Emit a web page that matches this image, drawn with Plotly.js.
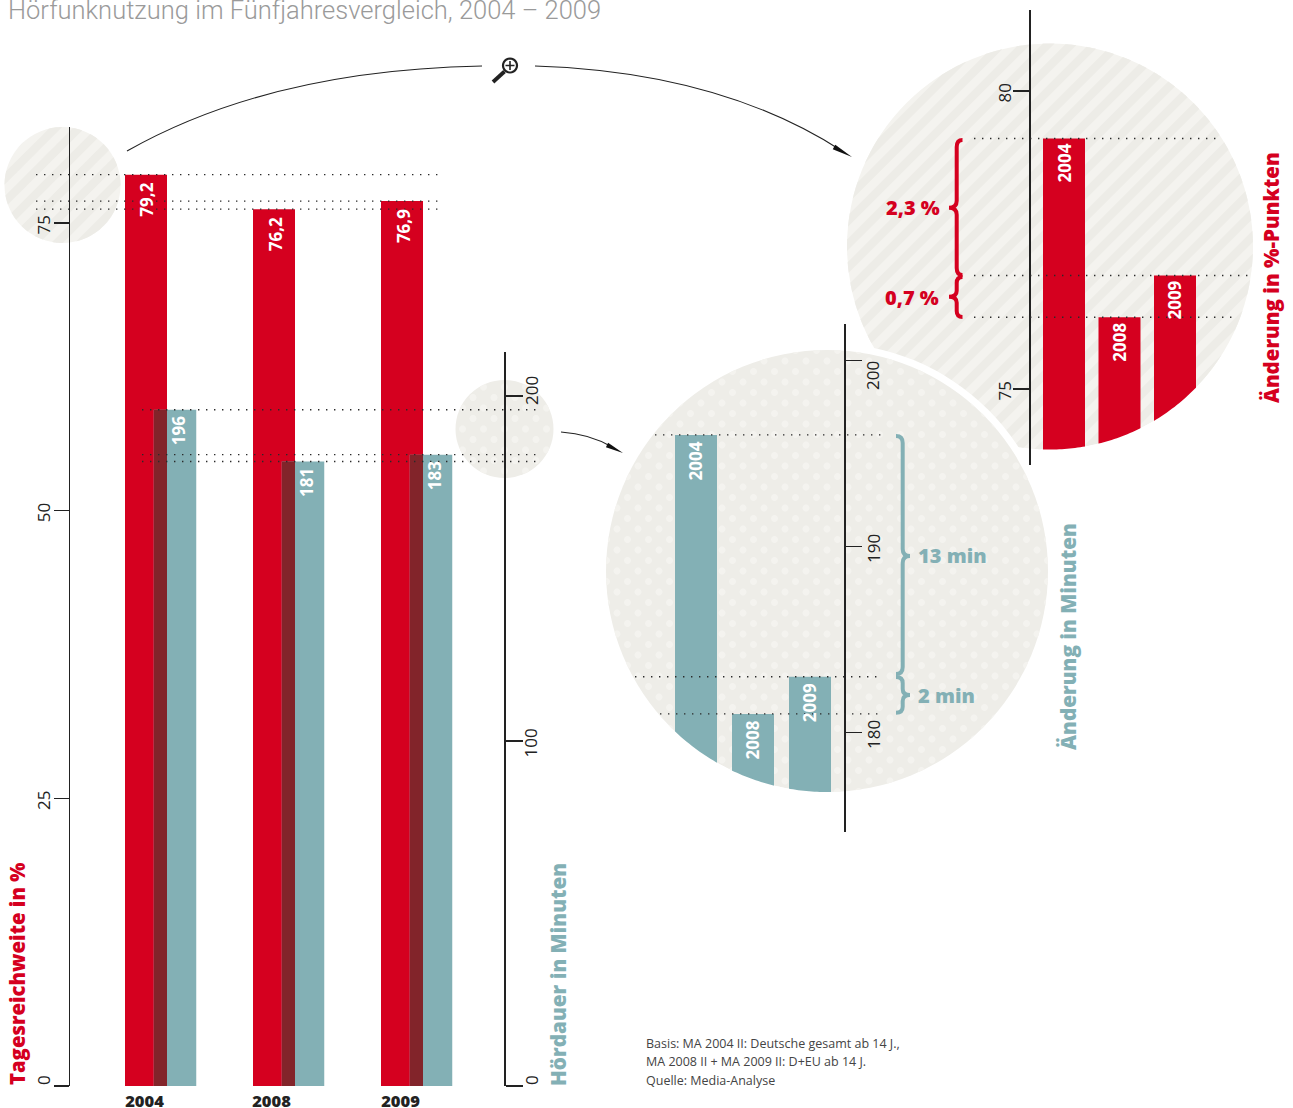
<!DOCTYPE html>
<html><head><meta charset="utf-8">
<script src="https://cdn.plot.ly/plotly-3.0.1.min.js"></script>
<style>html,body{margin:0;padding:0;background:#fff}#c{width:1293px;height:1108px}</style>
</head><body><div id="c"></div>
<script>
const years = ['2004','2008','2009'];
const reach = [79.2,76.2,76.9];
const reachLabels = ['79,2','76,2','76,9'];
const duration = [196,181,183];
const durationLabels = ['196','181','183'];
const reachTicks = [0,25,50,75];
const durationTicks = [0,100,200];
const reachZoomTicks = [75,80];
const durationZoomTicks = [180,190,200];
const reachDeltaLabels = ['2,3 %','0,7 %'];
const durationDeltaLabels = ['13 min','2 min'];
const titleText = 'Hörfunknutzung im Fünfjahresvergleich, 2004 – 2009';
const noteLines = ['Basis: MA 2004 II: Deutsche gesamt ab 14 J.,','MA 2008 II + MA 2009 II: D+EU ab 14 J.','Quelle: Media-Analyse'];

const W=1293,H=1108;
const RED='#d5001f',TEAL='#83b0b5',DARK='#82242a',INK='#222222',BASE='#eeede8',LIGHT='#f4f3ef';
const SANS='"Open Sans", sans-serif';
const px=x=>x/W, py=y=>1-y/H;
const P=(x,y)=>px(x).toFixed(5)+','+py(y).toFixed(5);

function ringPoly(cx,cy,R,n){let s='';for(let i=0;i<n;i++){const a=i/n*2*Math.PI;s+=(i?'L':'M')+P(cx+R*Math.cos(a),cy+R*Math.sin(a));}return s+'Z';}
function disc(cx,cy,R,color){return {type:'circle',xref:'paper',yref:'paper',x0:px(cx-R),x1:px(cx+R),y0:py(cy+R),y1:py(cy-R),fillcolor:color,line:{width:0},layer:'below'};}
function stripes(cx,cy,R,period,color){
  let d='';const c=Math.SQRT1_2;
  const pt=(u,v)=>P(cx+(u*c+v*c),cy+(u*c-v*c));
  for(let k=Math.floor(-R/period);k*period<R;k++){
    const a=Math.max(-R,k*period),b=Math.min(R,k*period+period/2);
    if(b<=a)continue;
    const L=[],N=10;
    for(let i=0;i<=N;i++){const u=a+(b-a)*i/N;L.push([u,Math.sqrt(Math.max(0,R*R-u*u))]);}
    d+='M'+L.map(p=>pt(p[0],p[1])).join('L')+'L'+L.slice().reverse().map(p=>pt(p[0],-p[1])).join('L')+'Z';
  }
  return {type:'path',xref:'paper',yref:'paper',path:d,fillcolor:color,line:{width:0},layer:'below'};
}
function dots(cx,cy,R,pitch,r,color){
  let d='';const rows=Math.ceil(R/(pitch/2));
  for(let j=-rows;j<=rows;j++){
    const off=(Math.abs(j)%2)*pitch/2;
    for(let i=-Math.ceil(R/pitch)-1;i<=Math.ceil(R/pitch)+1;i++){
      const x=cx+i*pitch+off,y=cy+j*pitch/2;
      if(Math.hypot(x-cx,y-cy)>R+r)continue;
      let s='';
      for(let k=0;k<10;k++){
        const a=k/10*2*Math.PI;let qx=x+r*Math.cos(a),qy=y+r*Math.sin(a);
        const dd=Math.hypot(qx-cx,qy-cy);
        if(dd>R){qx=cx+(qx-cx)*R/dd;qy=cy+(qy-cy)*R/dd;}
        s+=(k?'L':'M')+P(qx,qy);
      }
      d+=s+'Z';
    }
  }
  return {type:'path',xref:'paper',yref:'paper',path:d,fillcolor:color,line:{width:0},layer:'below'};
}
function arcMask(cx,cy,R,x0,x1,yEnd){
  let d='';const N=60;
  for(let i=0;i<=N;i++){const x=x0+(x1-x0)*i/N;d+=(i?'L':'M')+P(x,cy+Math.sqrt(Math.max(0,R*R-(x-cx)*(x-cx))));}
  d+='L'+P(x1,yEnd)+'L'+P(x0,yEnd)+'Z';
  return {type:'path',xref:'paper',yref:'paper',path:d,fillcolor:'#ffffff',line:{width:0},layer:'above'};
}
function dotted(yref,val,x0,x1){return {type:'line',xref:'paper',yref:yref,x0:px(x0),x1:px(x1),y0:val,y1:val,layer:'above',line:{color:'#2a2a2a',width:1.4,dash:'1.4px,6.6px'}};}
function stroke(d,color,w,layer){return {type:'path',xref:'paper',yref:'paper',path:d,line:{color:color,width:w},fillcolor:'rgba(0,0,0,0)',layer:layer||'above'};}
function brace(xs,xh,xt,y0,y1,ym,color){
  const r=(y1-y0)<60?6:7;const Q=(a,b,c,d)=>'Q'+P(a,b)+' '+P(c,d);
  const d='M'+P(xh,y0)+Q(xs,y0,xs,y0+r)+'L'+P(xs,ym-r)+Q(xs,ym,xt,ym)+Q(xs,ym,xs,ym+r)+'L'+P(xs,y1-r)+Q(xs,y1,xh,y1);
  return stroke(d,color,4);
}
function arrowHead(tx,ty,bx,by,w){
  const dx=tx-bx,dy=ty-by,l=Math.hypot(dx,dy),nx=-dy/l*w,ny=dx/l*w;
  return {type:'path',xref:'paper',yref:'paper',path:'M'+P(tx,ty)+'L'+P(bx+nx,by+ny)+'L'+P(bx-nx,by-ny)+'Z',fillcolor:'#111',line:{width:0},layer:'above'};
}
function vtext(t,x,y,color,size,weight){return {text:t,xref:'paper',yref:'paper',x:px(x),y:py(y),xanchor:'center',yanchor:'bottom',textangle:-90,showarrow:false,font:{family:SANS,size:size,color:color,weight:weight}};}
function htext(t,x,y,color,size,weight){return {text:t,xref:'paper',yref:'paper',x:px(x),y:py(y),xanchor:'left',yanchor:'middle',showarrow:false,font:{family:SANS,size:size,color:color,weight:weight}};}
function barLabel(t,xr,yr,i,y,size,shift,dy){return {text:t,xref:xr,yref:yr,x:i,y:y,xanchor:'center',yanchor:'top',yshift:-dy,xshift:shift,textangle:-90,showarrow:false,font:{family:SANS,size:size,color:'#fff',weight:700}};}
function tickNote(t,x,y){return {text:t,xref:'paper',yref:'paper',x:px(x),y:py(y),xanchor:'center',yanchor:'middle',textangle:-90,showarrow:false,font:{family:SANS,size:17,color:INK}};}

const NB='\u00a0\u00a0'; // rotated labels sit a little below their tick in the reference
const yAxis=(domTop,domBot,range,ticks,hidden,side,anchor,len,standoff)=>({domain:[py(domBot),py(domTop)],range:range,tickmode:'array',tickvals:ticks,ticktext:ticks.map(v=>hidden.includes(v)?'':String(v)+NB),side:side,anchor:anchor,showgrid:false,zeroline:false,showline:true,linecolor:INK,linewidth:1.5,ticks:'outside',ticklen:len,tickwidth:1.5,tickcolor:INK,tickangle:-90,ticklabelstandoff:standoff,tickfont:{family:SANS,size:17,color:INK},automargin:false,fixedrange:true});
const xAxis=(l,r,c0,pitch,anchor)=>({domain:[px(l),px(r)],range:[(l-c0)/pitch,(r-c0)/pitch],type:'category',categoryorder:'array',categoryarray:years,visible:false,anchor:anchor,fixedrange:true});

const mainL=70.3,mainR=504.3,pitch=128;
const xa1=xAxis(mainL,mainR,146,pitch,'y');
Object.assign(xa1,{visible:true,showgrid:false,showline:false,zeroline:false,ticks:'',tickmode:'array',tickvals:[-1.5/pitch,1-2.5/pitch,2-1.5/pitch],ticktext:years,tickangle:0,ticklabelstandoff:3,tickfont:{family:SANS,size:16.5,color:INK,weight:800},automargin:false});

const traces=[
 {type:'bar',x:years,y:reach,xaxis:'x',yaxis:'y',width:42/pitch,marker:{color:RED,line:{width:0}},name:'Tagesreichweite in %'},
 {type:'bar',x:years,y:duration,xaxis:'x2',yaxis:'y2',width:42.5/pitch,marker:{color:TEAL,line:{width:0}},name:'Hördauer in Minuten'},
 {type:'bar',x:years,y:duration,xaxis:'x2',yaxis:'y2',width:13/pitch,offset:-21/pitch,marker:{color:DARK,line:{width:0}},name:'Überlappung'},
 {type:'bar',x:years,y:reach,xaxis:'x3',yaxis:'y3',width:42/55.5,marker:{color:RED,line:{width:0}},name:'Änderung in %-Punkten'},
 {type:'bar',x:years,y:duration,xaxis:'x4',yaxis:'y4',width:42/57,marker:{color:TEAL,line:{width:0}},name:'Änderung in Minuten'}
];

const UP={cx:1050,cy:246.5,R:203},LO={cx:827,cy:571,R:221};
const shapes=[
 disc(62.5,185,58,LIGHT),stripes(62.5,185,58,16.5,'#edece7'),
 disc(504.5,429,49,BASE),dots(504.5,429,49,21,3.6,LIGHT),
 disc(UP.cx,UP.cy,UP.R,LIGHT),stripes(UP.cx,UP.cy,UP.R,16.5,'#edece7'),
 disc(LO.cx,LO.cy,LO.R+7,'#ffffff'),
 disc(LO.cx,LO.cy,LO.R,BASE),dots(LO.cx,LO.cy,LO.R,21,3.6,LIGHT),
 arcMask(UP.cx,UP.cy,UP.R,1041,1198,470),
 arcMask(LO.cx,LO.cy,LO.R,673,833,835),
 stroke('M'+P(127,151)+'Q'+P(270,70)+' '+P(482,66),'#222',1.1),
 stroke('M'+P(535,66)+'Q'+P(720,72)+' '+P(842,151),'#222',1.1),
 arrowHead(852,157,834,147,2.6),
 stroke('M'+P(561,432)+'Q'+P(590,434)+' '+P(612,447),'#222',1.1),
 arrowHead(623,453,607,445,2.4),
 stroke(ringPoly(510,65.5,7,24),'#222',2.2),
 stroke('M'+P(505.5,65.5)+'L'+P(514.5,65.5)+'M'+P(510,61)+'L'+P(510,70),'#222',1.6),
 stroke('M'+P(504.5,71.5)+'L'+P(493,82),'#222',3.8),
 brace(956.7,962.5,949,140,275,207.7,RED),
 brace(956.7,962.5,949,277,317,296.7,RED),
 brace(902.7,896,910,436,674,556,TEAL),
 brace(902.7,896,910,677,712.7,695,TEAL)
];
reach.forEach(v=>shapes.push(dotted('y',v,36,440)));
duration.forEach(v=>shapes.push(dotted('y2',v,142,538)));
[[974,1218],[974,1234],[974,1250]].forEach((e,i)=>shapes.push(dotted('y3',reach[i],e[0],e[1])));
[[655,882],[660,878],[635,878]].forEach((e,i)=>shapes.push(dotted('y4',duration[i],e[0],e[1])));

const annotations=[];
years.forEach((yr,i)=>{
 annotations.push(barLabel(reachLabels[i],'x','y',i,reach[i],17,1,6));
 annotations.push(barLabel(durationLabels[i],'x2','y2',i,duration[i],17,3,5));
 annotations.push(barLabel(yr,'x3','y3',i,reach[i],17,0,3.5));
 annotations.push(barLabel(yr,'x4','y4',i,duration[i],17,-0.5,4.5));
});
annotations.push(
 vtext('Tagesreichweite in %',16.5,1087,RED,20.3,800),
 vtext('Hördauer in Minuten',557.5,1088,TEAL,20.7,800),
 vtext('Änderung in %-Punkten',1271,405.5,RED,20.5,800),
 vtext('Änderung in Minuten',1067.5,752,TEAL,20.7,800),
 htext(reachDeltaLabels[0],884,207,RED,20,800),
 htext(reachDeltaLabels[1],883,297,RED,20,800),
 htext(durationDeltaLabels[0],915.5,555,TEAL,20,800),
 htext(durationDeltaLabels[1],915.5,695,TEAL,20,800),
 tickNote('0',43,1080),tickNote('0',531,1080),tickNote('200',531,391),tickNote('200',873,376)
);
noteLines.forEach((t,i)=>annotations.push(htext(t,643.5,[1043,1061.5,1080][i],'#444',12.5,400)));

const layout={
 width:W,height:H,margin:{l:0,r:0,t:0,b:0},paper_bgcolor:'#fff',plot_bgcolor:'rgba(0,0,0,0)',showlegend:false,hovermode:false,barmode:'overlay',
 title:{text:titleText,x:px(8),xanchor:'left',xref:'paper',y:py(10),yref:'paper',yanchor:'middle',font:{family:'Roboto, sans-serif',size:25.5,color:'#9a9a9a',weight:300}},
 xaxis:xa1,
 xaxis2:xAxis(mainL,mainR,175,pitch,'y2'),
 yaxis:yAxis(127,1086,[0,(1086-127)/11.507],reachTicks,[0],'left','x',15,-3),
 yaxis2:yAxis(352,1086,[0,(1086-352)/3.45],durationTicks,[0,200],'right','x2',17,-6),
 xaxis3:xAxis(1030.5,1253,1064,55.5,'y3'),
 yaxis3:yAxis(10,465,[75+(388.8-465)/59.6,75+(388.8-10)/59.6],reachZoomTicks,[],'left','x3',16,-5),
 xaxis4:xAxis(606,844,696,57,'y4'),
 yaxis4:yAxis(324,832,[180+(732.5-832)/18.6,180+(732.5-324)/18.6],durationZoomTicks,[200],'right','x4',16,-2),
 shapes:shapes,annotations:annotations
};
Plotly.newPlot('c',traces,layout,{displayModeBar:false,staticPlot:true});
</script></body></html>
